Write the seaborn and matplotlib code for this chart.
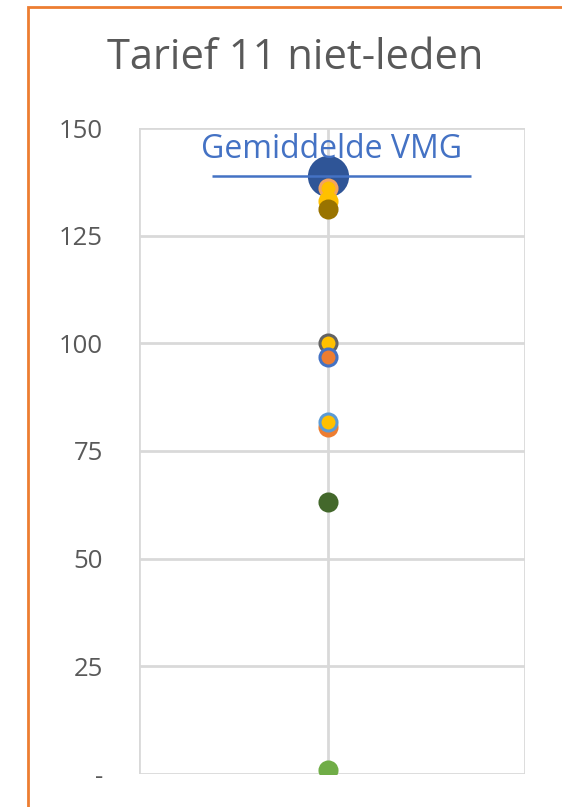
import numpy as np
import pandas as pd
import matplotlib
matplotlib.use("Agg")
import matplotlib.pyplot as plt
from matplotlib.patches import Rectangle
import seaborn as sns

# values (one dot per club, plus the average)
series = ["Club 1", "Club 2", "Club 3", "Club 4", "Club 5",
          "Club 6", "Club 7", "Club 8", "Club 9"]
values = [136.0, 133.0, 131.2, 100.0, 96.8, 80.5, 81.8, 63.2, 0.9]
face_colors = ["#FFC000", "#FFC000", "#997300", "#FFC000", "#ED7D31",
               "#ED7D31", "#FFC000", "#43682B", "#70AD47"]
edge_colors = ["#F4A460", "#FFC000", "#997300", "#636363", "#4472C4",
               "#ED7D31", "#5B9BD5", "#43682B", "#70AD47"]
mean_label = "Gemiddelde VMG"
mean_vmg = 138.8
y_ticks = [0, 25, 50, 75, 100, 125, 150]
y_tick_labels = ["-", "25", "50", "75", "100", "125", "150"]
title = "Tarief 11 niet-leden"

# the single category sits on the middle gridline
x_pos = 0.98
df = pd.DataFrame({"serie": series, "waarde": values, "x": x_pos})

sns.set_style("white")
plt.rcParams["font.family"] = ["Open Sans", "DejaVu Sans"]

fig = plt.figure(figsize=(5.62, 8.07), dpi=100)
ax = fig.add_axes([139 / 562, 33 / 807, 386 / 562, 646 / 807])

# mean marker + line
sns.scatterplot(x=[x_pos], y=[mean_vmg], s=880, color="#2F5597",
                edgecolor="#2F5597", linewidth=0, ax=ax, zorder=4)
ax.hlines(mean_vmg, 0.38, 1.72, color="#4472C4", lw=1.8, zorder=5)
ax.text(1.0, mean_vmg + 6.3, mean_label, color="#4472C4", fontsize=23,
        ha="center", va="center", zorder=6)

# individual dots, drawn top-down so lower ones sit on top
for i, row in df.iterrows():
    sns.scatterplot(x=[row["x"]], y=[row["waarde"]], s=150,
                    color=face_colors[i], edgecolor=edge_colors[i],
                    linewidth=2.2, ax=ax, zorder=6 + i)

ax.set_xlim(0, 2)
ax.set_ylim(0, 150)
ax.set_xticks([0, x_pos, 2])
ax.set_xticklabels([])
ax.set_yticks(y_ticks)
ax.set_yticklabels(y_tick_labels)
ax.tick_params(axis="y", length=0, pad=26, labelsize=18.5, labelcolor="#595959")
ax.tick_params(axis="x", length=0)
ax.grid(True, color="#D9D9D9", lw=2, zorder=0)
ax.set_axisbelow(True)
for sp in ax.spines.values():
    sp.set_visible(False)

fig.text(295 / 562, 1 - 58 / 807, title, fontsize=30, color="#595959",
         ha="center", va="center")

# orange chart-area border (cut off at right and bottom)
fig.patches.append(Rectangle((28 / 562, -0.1), 1.0, 1.1 - 7 / 807,
                             transform=fig.transFigure, fill=False,
                             edgecolor="#ED7D31", lw=2.0, zorder=0))

fig.savefig("out.png", dpi=100)
